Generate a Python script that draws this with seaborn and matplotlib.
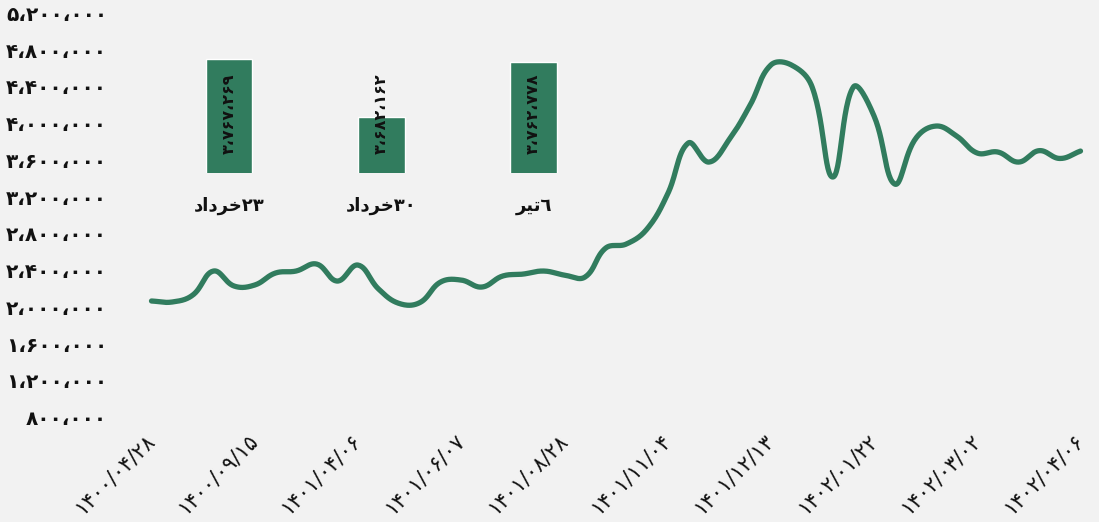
import numpy as np
import matplotlib.pyplot as plt
import matplotlib.transforms as mtransforms
import seaborn as sns

sns.set_theme(style="white")
plt.rcParams['font.family'] = ['DejaVu Sans']

# weekly price series (46 points), every 5th point carries a date label
prices = [2131000, 2120000, 2196000, 2457000, 2294000, 2305000, 2435000, 2457000,
          2533000, 2348000, 2522000, 2261000, 2104000, 2114000, 2337000, 2359000,
          2283000, 2402000, 2424000, 2457000, 2413000, 2392000, 2707000, 2751000,
          2914000, 3295000, 3850000, 3643000, 3894000, 4264000, 4699000, 4699000,
          4460000, 3480000, 4460000, 4144000, 3404000, 3894000, 4035000, 3926000,
          3741000, 3752000, 3643000, 3767269, 3682162, 3762778]
date_labels = ["۱۴۰۰/۰۴/۲۸", "۱۴۰۰/۰۹/۱۵", "۱۴۰۱/۰۴/۰۶", "۱۴۰۱/۰۶/۰۷", "۱۴۰۱/۰۸/۲۸",
               "۱۴۰۱/۱۱/۰۴", "۱۴۰۱/۱۲/۱۳", "۱۴۰۲/۰۱/۲۲", "۱۴۰۲/۰۳/۰۲", "۱۴۰۲/۰۴/۰۶"]
label_step = 5
y_ticks = list(range(800000, 5200001, 400000))

# last three weeks (inset bars)
weeks = ["۲۳خرداد", "۳۰خرداد", "٦تیر"]
week_prices = [3767269, 3682162, 3762778]

GREEN = "#317C5E"
BG = "#F2F2F2"
INK = "#111111"

FA = str.maketrans("0123456789,", "۰۱۲۳۴۵۶۷۸۹،")


def to_fa(v):
    return f"{int(v):,}".translate(FA)


# minimal persian shaping: (isolated, final, initial, medial)
FORMS = {"خ": "\uFEA5\uFEA6\uFEA7\uFEA8", "ت": "\uFE95\uFE96\uFE97\uFE98",
         "ی": "\uFBFC\uFBFD\uFEF3\uFEF4", "ر": "\uFEAD\uFEAE", "د": "\uFEA9\uFEAA",
         "ا": "\uFE8D\uFE8E"}


def visual(s):
    digits = "".join(c for c in s if c not in FORMS)
    letters = [c for c in s if c in FORMS]
    out = []
    for i, c in enumerate(letters):
        prev = i > 0 and len(FORMS[letters[i - 1]]) == 4
        nxt = len(FORMS[c]) == 4 and i < len(letters) - 1
        idx = {(False, False): 0, (True, False): 1, (False, True): 2, (True, True): 3}[(prev, nxt)]
        out.append(FORMS[c][idx])
    return "".join(reversed(out)) + digits


fig = plt.figure(figsize=(10.99, 5.22), dpi=100, facecolor=BG)
W, H = 1099, 522
ax = fig.add_axes([151.5 / W, (H - 423.3) / H, 929 / W, 404.3 / H])
ax.set_facecolor(BG)
xs = np.arange(len(prices))
ax.set_xlim(0, len(prices) - 1)
ax.set_ylim(y_ticks[0], y_ticks[-1])

# smooth bezier through points (computed in display space)
pts = ax.transData.transform(np.column_stack([xs, prices]))
t = 0.4
cp_prev, cp_next = [], []
for i in range(len(pts)):
    p0 = pts[max(i - 1, 0)]
    p1 = pts[i]
    p2 = pts[min(i + 1, len(pts) - 1)]
    d01 = np.hypot(*(p1 - p0))
    d12 = np.hypot(*(p2 - p1))
    tot = d01 + d12 if d01 + d12 > 0 else 1
    cp_prev.append(p1 - t * d01 / tot * (p2 - p0))
    cp_next.append(p1 + t * d12 / tot * (p2 - p0))
u = np.linspace(0, 1, 30)[:, None]
curve = []
for i in range(len(pts) - 1):
    a, b, c, d = pts[i], cp_next[i], cp_prev[i + 1], pts[i + 1]
    seg = (1 - u) ** 3 * a + 3 * (1 - u) ** 2 * u * b + 3 * (1 - u) * u ** 2 * c + u ** 3 * d
    curve.append(seg if i == 0 else seg[1:])
curve = ax.transData.inverted().transform(np.vstack(curve))

sns.lineplot(x=curve[:, 0], y=curve[:, 1], sort=False, estimator=None, color=GREEN,
             linewidth=3.8, solid_capstyle="round", clip_on=False, ax=ax)

ax.set_yticks(y_ticks)
ax.set_yticklabels([to_fa(v) for v in y_ticks])
ax.set_xticks(xs[::label_step])
ax.set_xticklabels(date_labels)
ax.tick_params(axis="y", length=0, pad=32, labelsize=14.5, labelcolor=INK)
ax.tick_params(axis="x", length=0, pad=10, labelsize=15, labelcolor=INK)
for lab in ax.get_yticklabels():
    lab.set_fontweight("bold")
    lab.set_transform(lab.get_transform() + mtransforms.ScaledTranslation(0, 4 / 72, fig.dpi_scale_trans))
for lab in ax.get_xticklabels():
    lab.set_rotation(45)
    lab.set_ha("right")
    lab.set_va("center")
    lab.set_rotation_mode("anchor")
sns.despine(ax=ax, left=True, bottom=True)
ax.grid(False)

# inset bars for the last three weeks
axb = fig.add_axes([152.8 / W, (H - 173.3) / H, 457 / W, 136.4 / H])
axb.patch.set_alpha(0)
sns.barplot(x=[visual(w) for w in weeks], y=week_prices, color=GREEN, saturation=1,
            width=0.306, ax=axb)
axb.set_ylim(3600000, 3800000)
axb.set_yticks([])
axb.tick_params(axis="x", length=0, pad=17, labelsize=13, labelcolor=INK)
for lab in axb.get_xticklabels():
    lab.set_fontweight("bold")
trans = mtransforms.blended_transform_factory(axb.transData, axb.transAxes)
for i, v in enumerate(week_prices):
    axb.text(i, 0.435, to_fa(v), transform=trans, rotation=90, ha="center", va="center",
             fontsize=11.5, fontweight="bold", color=INK)
sns.despine(ax=axb, left=True, bottom=True)
axb.grid(False)

plt.savefig("out.png", dpi=100, facecolor=BG)
